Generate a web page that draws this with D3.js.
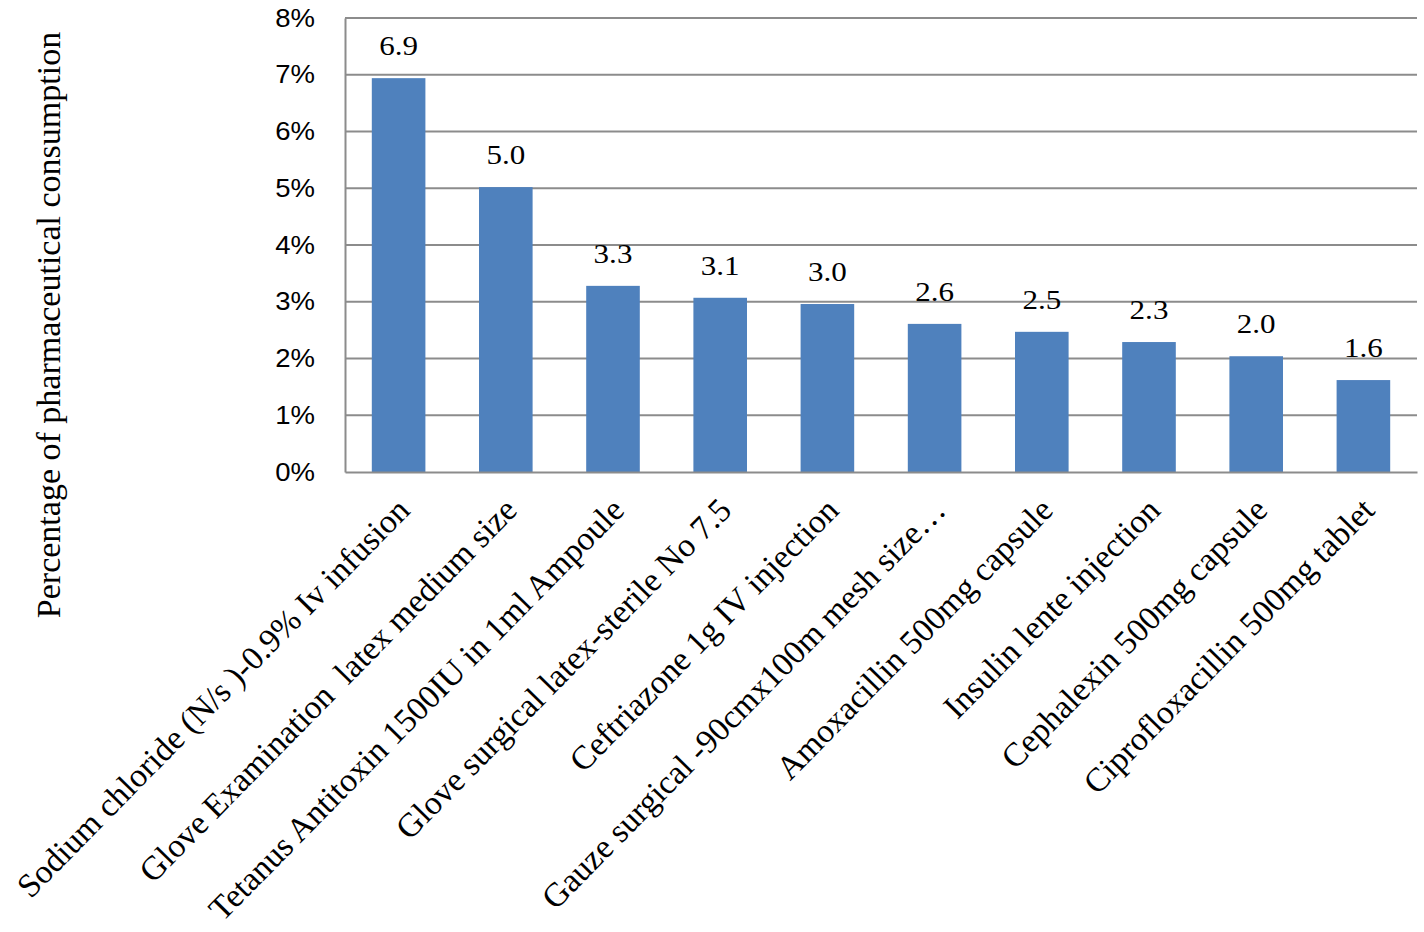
<!DOCTYPE html>
<html><head><meta charset="utf-8">
<script src="https://cdn.jsdelivr.net/npm/d3@7"></script>
<style>body{margin:0;background:#fff;} text{white-space:pre;}</style>
</head><body>
<svg id="c" width="1424" height="932"></svg>
<script>
const categories = ["Sodium chloride (N/s )-0.9% Iv infusion","Glove Examination  latex medium size","Tetanus Antitoxin 1500IU in 1ml Ampoule","Glove surgical latex-sterile No 7.5","Ceftriazone 1g IV injection","Gauze surgical -90cmx100m mesh size…","Amoxacillin 500mg capsule","Insulin lente injection","Cephalexin 500mg capsule","Ciprofloxacillin 500mg tablet"];
const values = [6.94, 5.02, 3.28, 3.07, 2.96, 2.61, 2.47, 2.29, 2.04, 1.62];
const dataLabels = ["6.9","5.0","3.3","3.1","3.0","2.6","2.5","2.3","2.0","1.6"];
const yTicks = [0,1,2,3,4,5,6,7,8];
const yTitle = "Percentage of pharmaceutical consumption";

const svg = d3.select("#c");
const L=345, R=1417, T=18, B=472;
const x = d3.scaleBand().domain(categories).range([L,R]).paddingInner(0.5).paddingOuter(0.25);
const y = d3.scaleLinear().domain([0,8]).range([B,T]);

// gridlines
svg.append("g").selectAll("line").data(yTicks.filter(d=>d>0)).join("line")
  .attr("x1",L).attr("x2",R).attr("y1",d=>y(d)).attr("y2",d=>y(d))
  .attr("stroke","#8c8c8c").attr("stroke-width",2);

// y axis
const ya = svg.append("g").attr("transform",`translate(${L},0)`)
  .call(d3.axisLeft(y).tickValues(yTicks).tickFormat(d=>d+"%").tickSize(0).tickPadding(0));
ya.select(".domain").attr("stroke","#8c8c8c").attr("stroke-width",2);
ya.selectAll("text").attr("font-family","'Liberation Sans', Arial, sans-serif").attr("font-size",25).attr("fill","#000")
  .attr("x",null).attr("transform","translate(-30,0) scale(1.1,1)");

// bars
svg.append("g").selectAll("rect").data(values).join("rect")
  .attr("x",(d,i)=>x(categories[i])).attr("width",x.bandwidth())
  .attr("y",d=>y(d)).attr("height",d=>B-y(d)).attr("fill","#4f81bd");

// x axis
const xa = svg.append("g").attr("transform",`translate(0,${B})`)
  .call(d3.axisBottom(x).tickSize(0).tickPadding(0));
xa.select(".domain").attr("stroke","#8c8c8c").attr("stroke-width",2);
xa.selectAll("text")
  .attr("font-family","'Liberation Serif', 'Times New Roman', serif").attr("font-size",33.5).attr("fill","#000")
  .attr("text-anchor","end").attr("dy",0).attr("y",0)
  .attr("transform","translate(13,40) rotate(-45.5)");

// data labels
svg.append("g").selectAll("text").data(values).join("text")
  .attr("transform",(d,i)=>`translate(${x(categories[i])+x.bandwidth()/2},${y(d)-23}) scale(1.15,1)`)
  .attr("text-anchor","middle")
  .attr("font-family","'Liberation Serif', 'Times New Roman', serif").attr("font-size",27)
  .text((d,i)=>dataLabels[i]);

// y title
svg.append("text").attr("transform","translate(60,325) rotate(-90)")
  .attr("text-anchor","middle")
  .attr("font-family","'Liberation Serif', 'Times New Roman', serif").attr("font-size",34)
  .text(yTitle);
</script>
</body></html>
